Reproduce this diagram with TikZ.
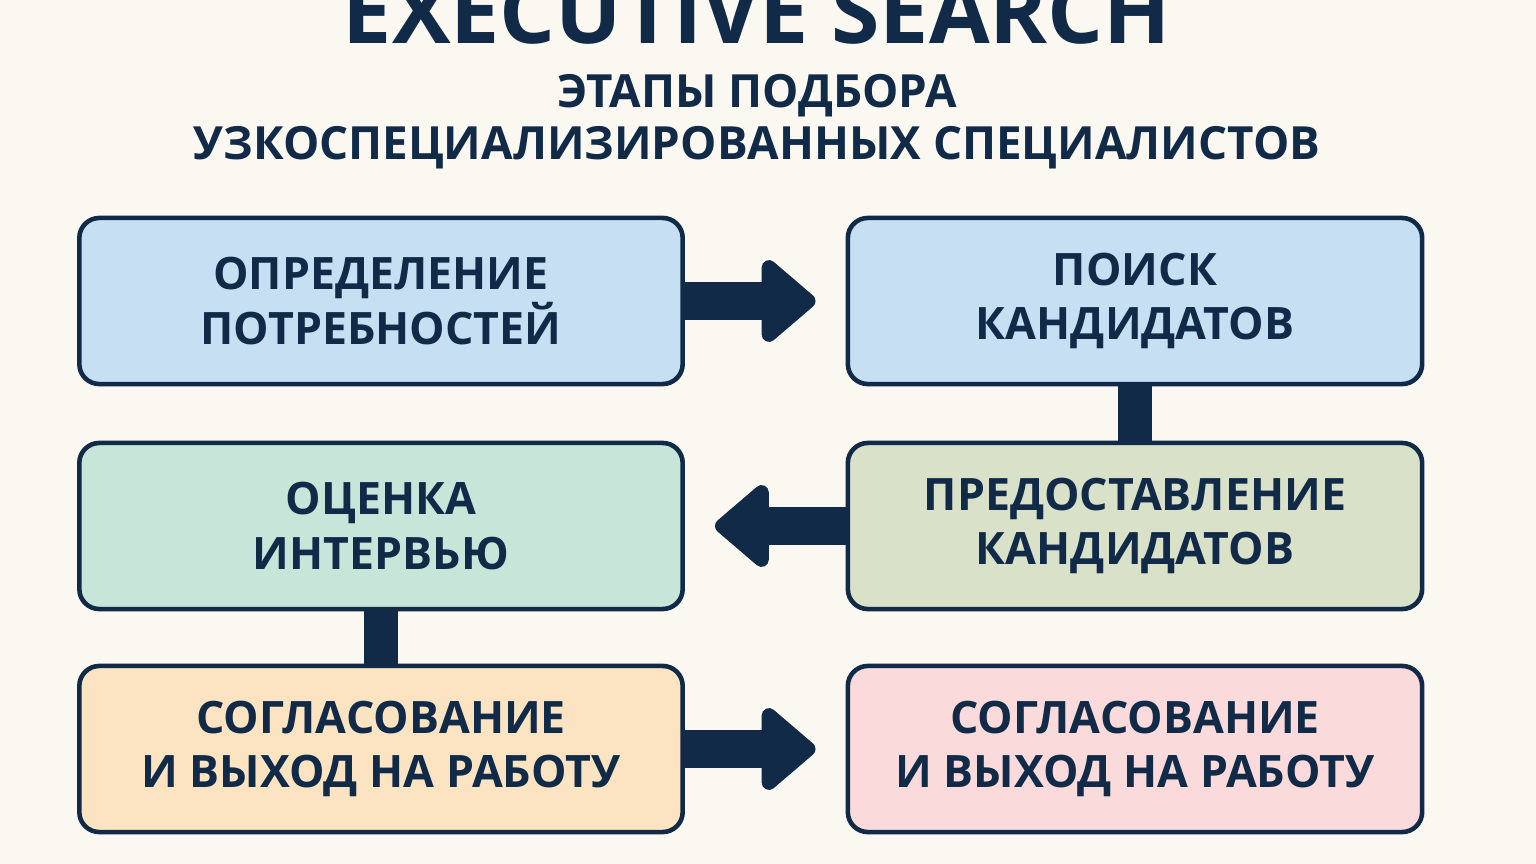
\documentclass[tikz,border=0pt]{standalone}
\usepackage{fontspec}
\setmainfont{Open Sans}
\usetikzlibrary{arrows.meta,positioning}
\definecolor{navy}{HTML}{102A47}
\definecolor{bgcol}{HTML}{FBF7F1}
\definecolor{blueA}{HTML}{C6DFF3}
\definecolor{greenA}{HTML}{C7E5D8}
\definecolor{oliveA}{HTML}{DAE1C9}
\definecolor{orangeA}{HTML}{FCE4C2}
\definecolor{pinkA}{HTML}{FADADB}
\tikzset{
  stage/.style={draw=navy, line width=1.3pt, rounded corners=0.2cm,
    minimum width=6.0cm, minimum height=1.66cm, align=center,
    font=\bfseries\fontsize{12.7}{15.4}\selectfont, text=navy},
  bigarrow/.style={draw=navy, line width=0.37cm,
    -{Triangle[length=0.58cm,width=0.95cm,round]}, shorten >=0.3cm},
  link/.style={draw=navy, line width=0.34cm}
}
\begin{document}
\begin{tikzpicture}[x=0.01cm,y=-0.01cm]
	\fill[bgcol] (0,0) rectangle (1536,864);
	\useasboundingbox (0,0) rectangle (1536,864);
%
	% title
	\node[text=navy, font=\bfseries\fontsize{25}{30}\selectfont, anchor=base] (title) at (757,44) {EXECUTIVE SEARCH};
	\node[text=navy, font=\bfseries\fontsize{13}{14.8}\selectfont, align=center] (subtitle) at (757,122)
		{ЭТАПЫ ПОДБОРА\\УЗКОСПЕЦИАЛИЗИРОВАННЫХ СПЕЦИАЛИСТОВ};
%
	% stages
	\node[stage, fill=blueA, minimum width=6.03cm] (needs) at (381,301) {ОПРЕДЕЛЕНИЕ\\ПОТРЕБНОСТЕЙ};
	\node[stage, fill=blueA, minimum width=5.74cm] (search) at (1135,301) {ПОИСК\\КАНДИДАТОВ};
	\node[stage, fill=greenA, minimum width=6.03cm] (interview) at (381,526) {ОЦЕНКА\\ИНТЕРВЬЮ};
	\node[stage, fill=oliveA, minimum width=5.74cm] (present) at (1135,526) {ПРЕДОСТАВЛЕНИЕ\\КАНДИДАТОВ};
	\node[stage, fill=orangeA, minimum width=6.03cm] (offerA) at (381,749) {СОГЛАСОВАНИЕ\\И ВЫХОД НА РАБОТУ};
	\node[stage, fill=pinkA, minimum width=5.74cm] (offerB) at (1135,749) {СОГЛАСОВАНИЕ\\И ВЫХОД НА РАБОТУ};
%
	% connectors
	\draw[bigarrow] (needs.east) -- (search.west);
	\draw[link] (search.south) -- (present.north);
	\draw[bigarrow] (present.west) -- (interview.east);
	\draw[link] (interview.south) -- (offerA.north);
	\draw[bigarrow] (offerA.east) -- (offerB.west);
\end{tikzpicture}
\end{document}
